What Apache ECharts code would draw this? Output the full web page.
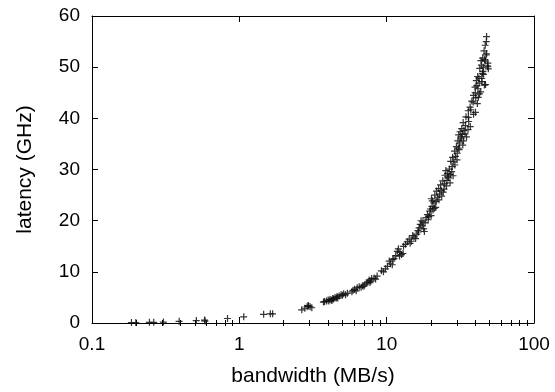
<!DOCTYPE html>
<html>
<head>
<meta charset="utf-8">
<script src="https://cdn.jsdelivr.net/npm/echarts@6/dist/echarts.min.js"></script>
<style>
  html, body { margin: 0; padding: 0; background: #fff; }
  #chart { width: 555px; height: 392px; }
</style>
</head>
<body>
<div id="chart"></div>
<script>
// bandwidth (MB/s) and latency (GHz) per measured point
const bandwidth = [
  0.185, 0.198, 0.245, 0.262, 0.305, 0.39, 0.51, 0.58, 0.585, 0.83, 1.07, 1.46, 1.62, 1.68,
  2.65, 2.78, 2.88, 2.95, 3.02, 3.1, 2.92,
  3.72, 3.78, 3.9, 4.0, 4.05, 4.12, 4.2, 4.3, 4.35, 4.45, 4.55, 4.6, 4.75, 4.9, 5.0, 5.1, 5.25,
  5.8, 5.9, 6.05, 6.2, 6.5, 6.7, 6.85, 7.0, 7.3, 7.45, 7.6, 7.7, 7.9, 8.2, 8.4, 8.6,
  9.2, 9.8, 10.1, 10.4, 10.6, 10.9, 11.0, 11.5, 11.8, 12.0, 12.3, 12.6, 12.9,
  13.4, 13.8, 14.2, 14.7, 15.3, 15.7, 16.0, 16.3, 16.6, 16.9, 17.1, 17.4, 17.8, 18.2, 18.5,
  18.9, 19.3, 19.8, 20.1, 20.3, 20.6, 20.9, 21.2, 21.5, 21.8, 22.1, 22.5, 22.8, 23.2, 23.6,
  24.0, 24.5, 24.9, 25.2, 25.6, 25.9, 26.3, 26.6, 26.9, 27.2, 27.6, 28.0, 28.5, 28.9, 29.3,
  29.7, 30.1, 30.4, 30.8, 31.2, 31.5, 31.9, 32.3, 32.6, 33.0, 33.4, 34.5, 34.2, 35.8, 35.8,
  36.8, 37.8, 37.2, 38.8, 38.6, 39.8, 39.9, 40.6, 40.9, 41.4, 41.6, 42.2, 42.8, 43.6, 44.0,
  44.2, 44.8, 45.2, 45.8, 46.2, 46.6, 46.8, 47.4, 47.6, 48.2, 48.6, 48.9, 46.0, 43.4, 40.2,
  20.4, 21.0, 24.2, 26.0, 27.0, 30.6, 32.0, 34.0, 36.0, 42.4, 44.6, 47.2,
  4.25, 4.65, 5.4, 6.3, 7.1, 7.8, 9.5, 11.2, 12.2, 13.0, 14.4, 15.0, 16.4, 17.6, 18.0,
  19.1, 19.6, 20.0, 21.6, 22.6, 23.4, 24.7, 25.4, 27.8, 28.2, 29.0, 30.0, 31.0, 33.2, 34.8,
  35.6, 36.9, 40.0, 41.2, 42.6, 44.2, 45.0, 45.4, 46.6, 47.6, 48.6, 38.8, 41.8, 32.8
];
const latency = [
  0.1, 0.1, 0.15, 0.15, 0.2, 0.35, 0.5, 0.6, 0.4, 0.9, 1.2, 1.7, 1.8, 1.8,
  2.6, 2.9, 3.2, 3.3, 3.2, 3.0, 3.4,
  4.1, 4.2, 4.3, 4.5, 4.3, 4.6, 4.5, 4.8, 4.7, 5.0, 4.9, 5.2, 5.3, 5.5, 5.4, 5.7, 5.5,
  6.1, 6.4, 6.6, 6.3, 7.1, 7.0, 7.3, 7.2, 7.8, 8.0, 8.4, 7.9, 8.7, 8.8, 8.6, 9.2,
  10.2, 10.6, 11.1, 12.1, 11.6, 11.4, 12.4, 13.2, 14.0, 14.5, 13.8, 13.4, 13.6,
  15.4, 15.9, 16.4, 16.0, 16.8, 16.5, 17.4, 18.1, 18.6, 19.3, 20.0, 19.0, 18.4, 19.6, 20.6,
  21.2, 20.8, 22.3, 24.3, 22.8, 22.1, 23.5, 25.0, 22.6, 25.8, 24.6, 26.3, 25.2, 27.0, 24.8,
  27.8, 26.2, 28.9, 29.8, 27.9, 29.2, 28.4, 30.1, 27.4, 31.6, 29.6, 32.4, 31.5, 33.6, 32.6,
  34.5, 33.2, 35.6, 36.8, 35.2, 37.4, 36.4, 38.0, 36.9, 39.2, 37.6, 40.3, 38.6, 41.5, 40.2,
  42.2, 43.4, 41.7, 44.5, 43.2, 46.1, 45.0, 47.4, 46.4, 48.2, 45.8, 47.9, 49.8, 51.3, 50.4,
  47.2, 51.8, 50.0, 53.2, 51.5, 54.3, 46.6, 55.0, 56.0, 50.3, 50.8, 49.7, 46.5, 45.2, 44.0,
  23.9, 22.4, 25.6, 28.6, 29.0, 34.2, 36.0, 37.0, 39.4, 46.9, 48.8, 52.4,
  4.4, 4.9, 5.8, 6.9, 7.5, 8.2, 10.0, 12.6, 13.1, 15.0, 15.6, 17.1, 17.8, 19.8, 17.9,
  20.2, 21.9, 21.0, 23.8, 24.1, 25.9, 27.2, 26.8, 30.6, 28.8, 30.9, 31.9, 33.9, 35.6, 36.4,
  37.8, 38.4, 41.2, 42.9, 44.8, 47.8, 49.2, 48.6, 51.2, 52.6, 50.1, 40.8, 44.1, 34.8
];

const xTickLabels = ['0.1', '1', '10', '100'];
const yTicks = [0, 10, 20, 30, 40, 50, 60];
const xMinorTicks = [0.2, 0.3, 0.4, 0.5, 0.6, 0.7, 0.8, 0.9, 2, 3, 4, 5, 6, 7, 8, 9, 20, 30, 40, 50, 60, 70, 80, 90];

const points = bandwidth.map((b, i) => [b, latency[i]]);

const FONT = 'Liberation Sans, Arial, Helvetica, sans-serif';
const lineStyle = { color: '#000', width: 1 };

const chart = echarts.init(document.getElementById('chart'), null, { renderer: 'canvas' });

const logAxis = (pos, opts) => Object.assign({
  type: 'log',
  logBase: 10,
  min: 0.1,
  max: 100,
  position: pos,
  axisLine: { show: true, onZero: false, lineStyle: lineStyle },
  axisTick: { show: true, inside: true, length: 6, lineStyle: lineStyle },
  axisLabel: { show: false },
  splitLine: { show: false }
}, opts);

chart.setOption({
  animation: false,
  backgroundColor: '#fff',
  grid: { left: 92, right: 21, top: 16, bottom: 64, containLabel: false },
  xAxis: [
    logAxis('bottom', {
      name: 'bandwidth (MB/s)',
      nameLocation: 'middle',
      nameGap: 43,
      nameTextStyle: { fontFamily: FONT, fontSize: 21, color: '#000' },
      axisLabel: {
        show: true, margin: 12, fontFamily: FONT, fontSize: 19, color: '#000',
        formatter: (v) => xTickLabels.find(t => Number(t) === Number(v)) || ''
      }
    }),
    logAxis('top', {}),
    logAxis('bottom', { axisLine: { show: false }, axisTick: { show: true, inside: true, length: 3, lineStyle: lineStyle, customValues: xMinorTicks } }),
    logAxis('top', { axisLine: { show: false }, axisTick: { show: true, inside: true, length: 3, lineStyle: lineStyle, customValues: xMinorTicks } })
  ],
  yAxis: [
    {
      type: 'value',
      min: 0,
      max: 60,
      interval: 10,
      position: 'left',
      name: 'latency (GHz)',
      nameLocation: 'middle',
      nameGap: 56,
      nameTextStyle: { fontFamily: FONT, fontSize: 21, color: '#000' },
      axisLine: { show: true, onZero: false, lineStyle: lineStyle },
      axisTick: { show: true, inside: true, length: 6, lineStyle: lineStyle },
      axisLabel: {
        margin: 12, fontFamily: FONT, fontSize: 19, color: '#000',
        formatter: (v) => yTicks.includes(v) ? String(v) : ''
      },
      splitLine: { show: false }
    },
    {
      type: 'value',
      min: 0,
      max: 60,
      interval: 10,
      position: 'right',
      axisLine: { show: true, onZero: false, lineStyle: lineStyle },
      axisTick: { show: true, inside: true, length: 6, lineStyle: lineStyle },
      axisLabel: { show: false },
      splitLine: { show: false }
    }
  ],
  series: [
    {
      type: 'scatter',
      xAxisIndex: 0,
      yAxisIndex: 0,
      data: points,
      symbol: 'path://M0,3H7V4.2H0Z M3,0H4.2V7H3Z',
      symbolSize: 7,
      itemStyle: { color: '#111', opacity: 0.85 },
      emphasis: { disabled: true }
    }
  ]
});
</script>
</body>
</html>
